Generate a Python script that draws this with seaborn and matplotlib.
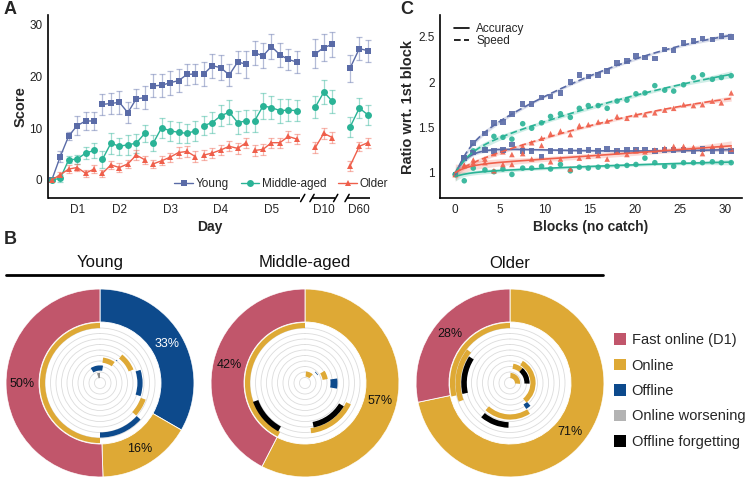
import numpy as np
import pandas as pd
import matplotlib
matplotlib.use("Agg")
import matplotlib.pyplot as plt
from matplotlib.lines import Line2D
from matplotlib.patches import Patch
import seaborn as sns

sns.set_theme(style="white")
plt.rcParams["font.family"] = ["Liberation Sans", "DejaVu Sans"]

# ---------------- data: panel A ----------------
groups = ["Young", "Middle-aged", "Older"]
day_names = ["D1", "D2", "D3", "D4", "D5", "D10", "D60"]
day_tick_pos = [3, 8, 14, 20, 26, 32.2, 36.4]
block_pos = list(range(30)) + [31.2, 32.2, 33.2, 35.3, 36.4, 37.4]
block_day = ["D1"] * 6 + ["D2"] * 6 + ["D3"] * 6 + ["D4"] * 6 + ["D5"] * 6 + ["D10"] * 3 + ["D60"] * 3

score_young = [0, 4.5, 8.5, 10.5, 11.4, 11.4, 14.6, 14.8, 15.0, 13.0, 15.7, 15.9,
               18.2, 18.3, 18.8, 19.2, 20.4, 20.5, 20.5, 22.1, 21.7, 20.3, 22.8, 22.4,
               24.6, 24.0, 25.8, 24.2, 23.3, 22.8, 24.4, 25.6, 26.2, 21.6, 25.4, 25.0]
score_middle = [0, 0.3, 3.9, 4.0, 5.2, 5.7, 4.0, 7.1, 6.5, 6.8, 7.1, 9.0,
                7.1, 10.1, 9.5, 9.2, 9.0, 9.5, 10.5, 11.1, 12.4, 13.1, 11.1, 11.4,
                11.4, 14.3, 14.0, 13.4, 13.5, 13.4, 14.1, 17.0, 15.2, 10.2, 13.9, 12.6]
score_older = [0, 1.0, 2.1, 2.4, 1.3, 2.1, 1.3, 2.9, 2.4, 3.1, 4.8, 3.9,
               3.1, 3.7, 4.4, 5.3, 5.5, 4.5, 4.8, 5.2, 5.8, 6.5, 6.1, 7.2,
               5.7, 5.9, 7.2, 7.2, 8.4, 7.9, 6.3, 9.0, 8.2, 2.7, 6.5, 7.2]
err_young = [0.3, 1.0, 0.8, 1.8, 1.8, 1.8, 2.0, 2.0, 2.2, 2.0, 1.8, 2.2,
             2.2, 2.2, 2.3, 2.2, 2.1, 2.0, 2.3, 2.3, 2.4, 2.2, 2.2, 2.6,
             2.3, 2.4, 2.5, 2.3, 2.0, 2.2, 2.8, 2.6, 2.4, 2.6, 2.2, 2.1]
err_middle = [0.3, 0.7, 0.7, 0.9, 1.2, 1.5, 1.6, 2.0, 1.6, 1.9, 1.8, 1.7,
              1.6, 1.9, 1.9, 2.0, 1.9, 1.9, 1.9, 2.0, 2.0, 2.3, 2.2, 2.2,
              2.1, 2.5, 2.3, 2.3, 2.2, 2.0, 2.2, 2.4, 2.2, 1.9, 2.0, 1.9]
err_older = [0.3, 0.5, 0.7, 0.7, 0.7, 0.7, 0.7, 0.8, 0.8, 0.8, 0.9, 0.8,
             0.8, 0.9, 0.9, 1.0, 1.0, 1.0, 1.0, 1.0, 1.0, 1.0, 1.0, 1.0,
             1.0, 1.0, 1.0, 1.0, 1.0, 1.0, 1.1, 1.1, 1.0, 0.9, 0.9, 1.0]

# ---------------- data: panel C ----------------
blocks_c = [0, 1.0, 2.0, 3.3, 4.3, 5.3, 6.3, 7.5, 8.5, 9.6, 10.6, 11.7, 12.8, 13.8, 14.8,
            15.9, 16.9, 18.0, 19.1, 20.1, 21.1, 22.2, 23.3, 24.3, 25.4, 26.5, 27.5, 28.6, 29.6, 30.7]
speed_young = [0.98, 1.16, 1.33, 1.43, 1.55, 1.56, 1.65, 1.76, 1.76, 1.83, 1.84, 1.88, 2.00, 2.08, 2.06,
               2.08, 2.12, 2.21, 2.23, 2.29, 2.27, 2.26, 2.36, 2.35, 2.43, 2.45, 2.48, 2.47, 2.51, 2.50]
speed_middle = [0.98, 1.16, 1.24, 1.26, 1.40, 1.39, 1.37, 1.54, 1.49, 1.55, 1.62, 1.65, 1.61, 1.71, 1.74,
                1.74, 1.71, 1.79, 1.80, 1.87, 1.88, 1.96, 1.91, 1.90, 1.97, 2.05, 2.08, 2.03, 2.05, 2.07]
speed_older = [0.98, 1.08, 1.14, 1.15, 1.21, 1.23, 1.20, 1.29, 1.33, 1.38, 1.43, 1.46, 1.42, 1.52, 1.53,
               1.56, 1.57, 1.62, 1.60, 1.64, 1.64, 1.66, 1.69, 1.71, 1.75, 1.74, 1.75, 1.79, 1.77, 1.88]
acc_young = [0.98, 1.16, 1.22, 1.25, 1.24, 1.25, 1.31, 1.24, 1.24, 1.18, 1.24, 1.24, 1.24, 1.24, 1.25,
             1.24, 1.26, 1.24, 1.25, 1.25, 1.25, 1.24, 1.25, 1.25, 1.25, 1.24, 1.26, 1.24, 1.24, 1.24]
acc_middle = [0.98, 0.91, 1.05, 1.03, 1.01, 1.04, 0.98, 1.05, 1.05, 1.07, 1.04, 1.09, 1.02, 1.06, 1.05,
              1.06, 1.07, 1.07, 1.08, 1.09, 1.16, 1.11, 1.07, 1.07, 1.11, 1.11, 1.11, 1.12, 1.11, 1.11]
acc_older = [0.98, 1.08, 1.11, 1.11, 1.02, 1.09, 1.09, 1.21, 1.15, 1.30, 1.12, 1.15, 1.04, 1.16, 1.18,
             1.19, 1.15, 1.23, 1.20, 1.24, 1.23, 1.25, 1.27, 1.29, 1.29, 1.28, 1.21, 1.29, 1.30, 1.26]

# ---------------- data: panel B ----------------
outer_cats = ["Offline", "Online", "Fast online (D1)"]      # clockwise from 12 o'clock
share_young = [33, 16, 50]
share_middle = [0, 57, 42]
share_older = [0, 71, 28]

young_ring = [57.5, 52, 46, 40, 33.5, 28, 23, 15, 7.5]
young_start = [180, 132, 110, 72, 38, 35, 7, 328, 343]
young_end = [360, 180, 132, 108, 68, 38, 35, 370, 360]
young_cat = ["Online", "Offline", "Online", "Offline", "Online", "Offline", "Online", "Offline",
             "Online worsening"]
young_thick = [5.2, 5.2, 5.2, 5.2, 5.2, 0.7, 5.2, 5.2, 5.2]

middle_ring = [57.5, 52.5, 48, 42.5, 29, 20.5, 15, 9]
middle_start = [207, 209, 115, 121, 82, 58, 42, 5]
middle_end = [360, 250, 173, 169, 100, 80, 58, 42]
middle_cat = ["Online", "Offline forgetting", "Online", "Offline forgetting", "Offline", "Online",
              "Offline", "Online"]
middle_thick = [5.2, 5.6, 5.2, 5.6, 7.0, 5.2, 0.7, 5.2]

older_ring = [57.5, 52, 46, 42, 34, 28, 23, 17, 17, 7.5]
older_start = [257, 250, 257, 182, 147, 138, 30, 10, 40, 3]
older_end = [360, 308, 303, 220, 222, 148, 140, 40, 92, 95]
older_cat = ["Online", "Online", "Offline forgetting", "Offline forgetting", "Online", "Offline",
             "Online", "Online", "Offline forgetting", "Online"]
older_thick = [5.2, 5.2, 5.6, 5.6, 5.2, 5.2, 5.2, 5.2, 5.2, 5.2]

legend_cats = ["Fast online (D1)", "Online", "Offline", "Online worsening", "Offline forgetting"]

# ---------------- styles ----------------
grp_colors = {"Young": "#5a6ba7", "Middle-aged": "#2ab396", "Older": "#ef5f4b"}
grp_markers = {"Young": "s", "Middle-aged": "o", "Older": "^"}
cat_colors = {"Fast online (D1)": "#c1566b", "Online": "#dea935", "Offline": "#0d4a8c",
              "Online worsening": "#8c8c8c", "Offline forgetting": "#000000"}
legend_colors = dict(cat_colors, **{"Online worsening": "#b3b3b3"})

W, H = 750, 479
fig = plt.figure(figsize=(7.5, 4.79), dpi=100)


def fx(px):
    return px / W


def fy(py):
    return 1 - py / H


# ================= Panel A =================
axA = fig.add_axes([fx(48), fy(198), fx(372 - 48), (198 - 15) / H])
dfA = pd.DataFrame({
    "x": block_pos * 3,
    "score": score_young + score_middle + score_older,
    "err": err_young + err_middle + err_older,
    "group": ["Young"] * 36 + ["Middle-aged"] * 36 + ["Older"] * 36,
    "day": block_day * 3,
})
for g in groups:
    sub = dfA[dfA.group == g]
    axA.errorbar(sub.x, sub.score, yerr=sub.err, fmt="none", ecolor=grp_colors[g],
                 alpha=0.45, elinewidth=0.9, capsize=2.4, capthick=0.9, zorder=1)
sns.lineplot(data=dfA, x="x", y="score", hue="group", style="group", units="day",
             estimator=None, markers=grp_markers, dashes=False, palette=grp_colors,
             hue_order=groups, style_order=groups, markersize=5, markeredgewidth=0,
             linewidth=1.0, legend=False, ax=axA, zorder=3)
axA.set_xlim(-0.45, 37.9)
axA.set_ylim(-3.5, 31.9)
axA.set_yticks([0, 10, 20, 30])
axA.set_xticks(day_tick_pos)
axA.set_xticklabels(day_names)
axA.tick_params(axis="both", length=0, labelsize=8.5, pad=4, labelcolor="#222222")
for s in ["top", "right", "bottom"]:
    axA.spines[s].set_visible(False)
axA.spines["left"].set_color("black")
axA.spines["left"].set_linewidth(1.2)
axA.set_xlabel("Day", fontsize=10, fontweight="bold", labelpad=3)
axA.set_ylabel("Score", fontsize=10.5, fontweight="bold", labelpad=1)
# broken x axis
trA = axA.get_xaxis_transform()
for x0, x1 in [(-0.45, 29.4), (30.8, 33.5), (34.95, 37.7)]:
    axA.plot([x0, x1], [0, 0], color="black", lw=1.2, transform=trA, clip_on=False, solid_capstyle="butt")
for xs in [29.7, 30.8, 33.6, 34.95]:
    axA.plot([xs - 0.25, xs + 0.25], [-0.02, 0.02], color="black", lw=1.1, transform=trA, clip_on=False)
handlesA = [Line2D([], [], color=grp_colors[g], marker=grp_markers[g], ms=5, mew=0, lw=1.0) for g in groups]
axA.legend(handlesA, groups, loc="center left", bbox_to_anchor=(0.39, 0.075), ncol=3, frameon=False,
           fontsize=8.5, handlelength=1.6, handletextpad=0.2, columnspacing=1.0,
           borderpad=0, borderaxespad=0)

# ================= Panel C =================
axC = fig.add_axes([fx(440), fy(198), fx(742 - 440), (198 - 15) / H])
xc = np.array(blocks_c, dtype=float)
series_c = [("Young", "Speed", speed_young), ("Middle-aged", "Speed", speed_middle),
            ("Older", "Speed", speed_older), ("Young", "Accuracy", acc_young),
            ("Middle-aged", "Accuracy", acc_middle), ("Older", "Accuracy", acc_older)]
pts, fits = [], []
for g, m, vals in series_c:
    y = np.array(vals, dtype=float)
    pts.append(pd.DataFrame({"block": xc, "ratio": y, "group": g, "measure": m}))
    B = np.column_stack([np.ones_like(xc), xc, xc ** 2, np.exp(-xc / 1.5)])
    coef = np.linalg.lstsq(B, y, rcond=None)[0]
    xs = np.linspace(0, xc.max(), 200)
    Bs = np.column_stack([np.ones_like(xs), xs, xs ** 2, np.exp(-xs / 1.5)])
    yh = Bs @ coef
    resid = y - B @ coef
    sigma2 = np.sum(resid ** 2) / (len(y) - B.shape[1])
    cov = sigma2 * np.linalg.inv(B.T @ B)
    se = np.sqrt(np.einsum("ij,jk,ik->i", Bs, cov, Bs))
    axC.fill_between(xs, yh - 1.96 * se, yh + 1.96 * se, color=grp_colors[g], alpha=0.22, lw=0, zorder=1)
    fits.append(pd.DataFrame({"block": xs, "ratio": yh, "group": g, "measure": m}))
dfCp = pd.concat(pts, ignore_index=True)
dfCf = pd.concat(fits, ignore_index=True)
sns.scatterplot(data=dfCp, x="block", y="ratio", hue="group", style="group", markers=grp_markers,
                hue_order=groups, style_order=groups, palette=grp_colors, s=16, linewidth=0,
                alpha=0.9, legend=False, ax=axC, zorder=2)
sns.lineplot(data=dfCf, x="block", y="ratio", hue="group", style="measure", hue_order=groups,
             palette=grp_colors, dashes={"Accuracy": "", "Speed": (4, 2)}, estimator=None,
             units="measure", linewidth=1.2, legend=False, ax=axC, zorder=3)
axC.set_xlim(-1.7, 31.9)
axC.set_ylim(0.72, 2.74)
axC.set_xticks([0, 5, 10, 15, 20, 25, 30])
axC.set_yticks([1, 1.5, 2, 2.5])
axC.set_yticklabels(["1", "1.5", "2", "2.5"])
axC.tick_params(axis="both", length=0, labelsize=8.5, pad=4, labelcolor="#222222")
for s in ["top", "right"]:
    axC.spines[s].set_visible(False)
for s in ["left", "bottom"]:
    axC.spines[s].set_color("black")
    axC.spines[s].set_linewidth(1.2)
axC.set_xlabel("Blocks (no catch)", fontsize=10, fontweight="bold", labelpad=3)
axC.set_ylabel("Ratio wrt. 1st block", fontsize=10.5, fontweight="bold", labelpad=2)
handlesC = [Line2D([], [], color="black", lw=1.2), Line2D([], [], color="black", lw=1.2, ls=(0, (4, 2)))]
axC.legend(handlesC, ["Accuracy", "Speed"], loc="upper left", bbox_to_anchor=(0.045, 0.955),
           frameon=False, fontsize=8.5, handlelength=1.3, handletextpad=0.6, labelspacing=0.0,
           borderpad=0, borderaxespad=0)

# ================= Panel B =================
R_OUT = 94
centers = [100, 305, 510]
group_data = [
    (share_young, young_ring, young_start, young_end, young_cat, young_thick),
    (share_middle, middle_ring, middle_start, middle_end, middle_cat, middle_thick),
    (share_older, older_ring, older_start, older_end, older_cat, older_thick),
]
grid_r = [5.5 * k for k in range(1, 11)]
for cx, g, (shares, ring, st, en, cats, thick) in zip(centers, groups, group_data):
    ax = fig.add_axes([fx(cx - R_OUT), fy(383 + R_OUT), 2 * R_OUT / W, 2 * R_OUT / H], projection="polar")
    ax.set_theta_zero_location("N")
    ax.set_theta_direction(-1)
    ax.set_ylim(0, R_OUT)
    ax.spines["polar"].set_visible(False)
    ax.set_xticks([])
    ax.set_rgrids(grid_r, labels=[])
    ax.yaxis.grid(True, color="#dcdcdc", lw=0.6)
    ax.xaxis.grid(False)
    ax.set_facecolor("white")
    # outer donut
    tot = float(sum(shares))
    cum = 0.0
    for cat, sh in zip(outer_cats, shares):
        if sh <= 0:
            continue
        span = 2 * np.pi * sh / tot
        ax.bar(cum + span / 2, 33, width=span, bottom=61, color=cat_colors[cat],
               edgecolor="white", linewidth=0.6, zorder=2)
        mid = cum + span / 2
        ax.text(mid, 77.5, f"{sh}%", ha="center", va="center", fontsize=9,
                color="white" if cat == "Offline" else "#111111", zorder=5)
        cum += span
    # inner session arcs
    for r, a0, a1, cat, th in zip(ring, st, en, cats, thick):
        t0, t1 = np.deg2rad(a0), np.deg2rad(a1)
        ax.bar((t0 + t1) / 2, th, width=(t1 - t0), bottom=r - th / 2, color=cat_colors[cat],
               linewidth=0, zorder=3)
    fig.text(fx(cx), fy(263), g, ha="center", va="center", fontsize=12, color="#111111")

fig.add_artist(Line2D([fx(6), fx(603)], [fy(275), fy(275)], color="black", lw=2.0, transform=fig.transFigure))

handlesB = [Patch(facecolor=legend_colors[c], edgecolor="none") for c in legend_cats]
fig.legend(handlesB, legend_cats, loc="center left", bbox_to_anchor=(fx(614), fy(391)), frameon=False,
           fontsize=10.5, handlelength=0.85, handleheight=0.85, handletextpad=0.35, labelspacing=0.78,
           borderpad=0, borderaxespad=0)

# panel letters
fig.text(fx(4), fy(10), "A", fontsize=13, fontweight="bold", va="center", ha="left")
fig.text(fx(400), fy(10), "C", fontsize=13, fontweight="bold", va="center", ha="left")
fig.text(fx(4), fy(240), "B", fontsize=13, fontweight="bold", va="center", ha="left")

fig.savefig("out.png", dpi=100)
